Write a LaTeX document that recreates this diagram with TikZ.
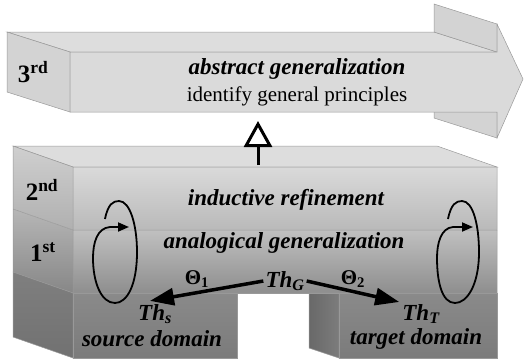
\documentclass[tikz,border=0pt]{standalone}
\usepackage{fontspec}
\setmainfont{Liberation Serif}
\usetikzlibrary{arrows.meta}

\definecolor{arrowgray}{HTML}{DADADA}
\definecolor{arrowside}{HTML}{D3D3D3}
\definecolor{topgray}{HTML}{DDDDDD}
\definecolor{secondtop}{HTML}{DADADA}
\definecolor{secondbot}{HTML}{B9B9B9}
\definecolor{firsttop}{HTML}{C0C0C0}
\definecolor{firstbot}{HTML}{8E8E8E}
\definecolor{basetop}{HTML}{8A8A8A}
\definecolor{basebot}{HTML}{7B7B7B}

\tikzset{
  facet/.style={draw=black!40, line width=0.5pt},
  ordinal/.style={font=\fontsize{25}{29}\selectfont\bfseries, inner sep=0pt},
  boldit/.style={font=\fontsize{23}{27}\selectfont\bfseries\itshape, inner sep=0pt},
  upright/.style={font=\fontsize{21}{25}\selectfont, inner sep=0pt},
  mapname/.style={font=\fontsize{21}{25}\selectfont\bfseries, inner sep=0pt},
  maparrow/.style={line width=3.5pt, -{Triangle[length=24pt,width=17pt]}},
  cyclearrow/.style={line width=1.8pt, -{Triangle[length=11pt,width=9pt]}},
}

\begin{document}
\begin{tikzpicture}[x=1pt, y=-1pt]
  \useasboundingbox (0,0) rectangle (524,360);

  % ---- 3rd level: the big arrow ----
  \fill[facet, fill=topgray] (7,32) -- (434,32) -- (497,52) -- (70,52) -- cycle;
  \fill[facet, fill=arrowside] (7,32) -- (70,52) -- (70,112) -- (7,92) -- cycle;
  \fill[facet, fill=arrowside] (434,4) -- (497,24) -- (497,52) -- (434,32) -- cycle;
  \fill[facet, fill=arrowside] (434,92) -- (497,112) -- (497,138) -- (434,118) -- cycle;
  \fill[facet, fill=arrowgray]
    (70,52) -- (497,52) -- (497,24) -- (523,79) -- (497,138) -- (497,112) -- (70,112) -- cycle;

  \node[ordinal] (third) at (33,72) {3\textsuperscript{rd}};
  \node[boldit] (abstr) at (297,69) {abstract generalization};
  \node[upright] (ident) at (297,96) {identify general principles};

  % ---- lower block: 2nd and 1st level ----
  \fill[facet, fill=topgray] (13,146) -- (437,146) -- (497,167) -- (73,167) -- cycle;
  \shade[top color=secondtop!95!black, bottom color=secondbot!95!black]
    (13,146) -- (73,167) -- (73,230) -- (13,209) -- cycle;
  \shade[top color=firsttop!95!black, bottom color=firstbot!95!black]
    (13,209) -- (73,230) -- (73,293) -- (13,272) -- cycle;
  \shade[top color=secondtop, bottom color=secondbot] (73,167) rectangle (497,230);
  \shade[top color=firsttop, bottom color=firstbot] (73,230) rectangle (497,293);
  \draw[facet] (13,146) -- (73,167) -- (73,293) -- (13,272) -- cycle
    (13,209) -- (73,230) (73,167) rectangle (497,230) (73,230) rectangle (497,293);

  % ---- ground: source and target domain ----
  \shade[facet, top color=basetop!92!black, bottom color=basebot!92!black]
    (13,272) -- (73,293) -- (73,358) -- (13,337) -- cycle;
  \shade[facet, top color=basetop, bottom color=basebot] (73,293) rectangle (237,358);
  \shade[facet, left color=basebot!85!black, right color=basetop!90!black]
    (309,293) -- (339,293) -- (339,358) -- (309,348) -- cycle;
  \shade[facet, top color=basetop, bottom color=basebot] (339,293) rectangle (497,358);
  \draw[facet] (73,293) -- (497,293);

  \node[ordinal] (second) at (42,190) {2\textsuperscript{nd}};
  \node[ordinal] (first) at (43,252) {1\textsuperscript{st}};
  \node[boldit] (induct) at (286,200) {inductive refinement};
  \node[boldit] (analog) at (284,243) {analogical generalization};

  % theories and mappings
  \node[boldit] (thG) at (285,281) {Th\textsubscript{G}};
  \node[boldit] (thS) at (155,314) {Th\textsubscript{s}};
  \node[boldit] (thT) at (421,314) {Th\textsubscript{T}};
  \node[boldit] (source) at (152,339) {source domain};
  \node[boldit] (target) at (416,339) {target domain};
  \node[mapname] (theta1) at (197,279) {Θ\textsubscript{1}};
  \node[mapname] (theta2) at (353,279) {Θ\textsubscript{2}};

  \draw[maparrow] ([xshift=-2pt]thG.west) -- ([xshift=-5pt, yshift=3pt]thS.north);
  \draw[maparrow] ([xshift=2pt]thG.east) -- ([xshift=-3pt, yshift=2pt]thT.north west);

  % ---- refinement cycles ----
  \draw[cyclearrow] (105,219) .. controls (108,204) and (113,201) .. (119,201)
    .. controls (130,201) and (137,225) .. (137,252)
    .. controls (137,285) and (127,303) .. (115,303)
    .. controls (101,303) and (93,282) .. (93,258)
    .. controls (93,243) and (97,228) .. (110,227) -- (129,227);
  \draw[cyclearrow] (448,219) .. controls (451,204) and (456,201) .. (462,201)
    .. controls (473,201) and (479,225) .. (479,252)
    .. controls (479,285) and (467,303) .. (455,303)
    .. controls (442,303) and (437,282) .. (437,258)
    .. controls (437,243) and (441,228) .. (453,227) -- (473,227);

  % ---- step up to the 3rd level ----
  \coordinate (lowtop) at (258,165);
  \coordinate (uptip) at (258,121);
  \draw[line width=3pt, -{Triangle[open, length=26pt, width=28pt, line width=3pt]}]
    (lowtop) -- (uptip);

\end{tikzpicture}
\end{document}
